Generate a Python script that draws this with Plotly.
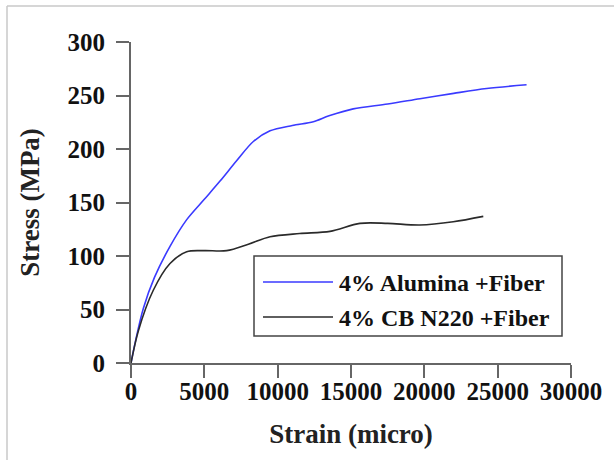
import plotly.graph_objects as go

# Data
alumina_strain = [0, 300, 840, 1600, 2660, 3800, 5000, 6070, 7200, 8340, 9480, 11000, 12430, 13500, 15150, 17500, 19700, 22000, 24250, 26970]
alumina_stress = [0, 20, 51, 80, 109, 134, 153, 170, 189, 207, 217, 222, 225.5, 231, 237.5, 242, 247, 252, 256.5, 260]
cb_strain = [0, 500, 1520, 2660, 3800, 5000, 6520, 8000, 9480, 11500, 13570, 15610, 17500, 19700, 21970, 24020]
cb_stress = [0, 30, 68, 93, 104, 105, 105, 111, 118, 121, 123, 130.5, 130.5, 129, 132, 137]
series_names = ["4% Alumina +Fiber", "4% CB N220 +Fiber"]
x_ticks = [0, 5000, 10000, 15000, 20000, 25000, 30000]
y_ticks = [0, 50, 100, 150, 200, 250, 300]

FONT = "Liberation Serif"
BLUE = "#3a3aff"
BLACK = "#2a2a2a"
AXIS = "#666666"

W, H = 614, 460
L, R, T, B = 131, 571, 42, 363

def px(x):
    return (x - L) / (R - L)

def py(y):
    return (B - y) / (B - T)

fig = go.Figure()
fig.add_trace(go.Scatter(x=alumina_strain, y=alumina_stress, mode="lines",
                         line=dict(color=BLUE, width=1.6, shape="spline", smoothing=0.9),
                         name=series_names[0], showlegend=False))
fig.add_trace(go.Scatter(x=cb_strain, y=cb_stress, mode="lines",
                         line=dict(color=BLACK, width=1.6, shape="spline", smoothing=0.9),
                         name=series_names[1], showlegend=False))

axis_common = dict(showgrid=False, zeroline=False, showline=True, linecolor=AXIS, linewidth=2,
                   ticks="outside", ticklen=13, tickwidth=2, tickcolor=AXIS,
                   tickfont=dict(family=FONT, size=25, color="#111"))

fig.update_xaxes(range=[0, 30000], tickvals=x_ticks, ticktext=["<b>%d</b>" % v for v in x_ticks],
                 title=dict(text="<b>Strain (micro)</b>", font=dict(family=FONT, size=27, color="#222"), standoff=20),
                 ticklabelstandoff=-8,
                 **axis_common)
fig.update_yaxes(range=[0, 300], tickvals=y_ticks, ticktext=["<b>%d</b>" % v for v in y_ticks],
                 title=dict(text="<b>Stress (MPa)</b>", font=dict(family=FONT, size=27, color="#222"), standoff=20),
                 ticklabelstandoff=6,
                 **axis_common)

shapes = []
# image border (top & left)
shapes.append(dict(type="line", xref="paper", yref="paper", x0=px(7), x1=px(620), y0=py(6), y1=py(6),
                   line=dict(color="#c8c8c8", width=1.5)))
shapes.append(dict(type="line", xref="paper", yref="paper", x0=px(7), x1=px(7), y0=py(6), y1=py(470),
                   line=dict(color="#c8c8c8", width=1.5)))
# legend box
shapes.append(dict(type="rect", xref="paper", yref="paper", x0=px(254), x1=px(562), y0=py(336), y1=py(256),
                   line=dict(color="#444", width=1.5), fillcolor="white"))
shapes.append(dict(type="line", xref="paper", yref="paper", x0=px(263), x1=px(333), y0=py(282), y1=py(282),
                   line=dict(color=BLUE, width=1.6)))
shapes.append(dict(type="line", xref="paper", yref="paper", x0=px(263), x1=px(333), y0=py(317), y1=py(317),
                   line=dict(color=BLACK, width=1.6)))
fig.update_layout(shapes=shapes)

for name, yc in zip(series_names, [283, 318]):
    fig.add_annotation(xref="paper", yref="paper", x=px(337), y=py(yc), xanchor="left", yanchor="middle",
                       text="<b>" + name + "</b>", showarrow=False,
                       font=dict(family=FONT, size=24, color="#111"))

fig.update_layout(width=W, height=H, margin=dict(l=L, r=W - R, t=T, b=H - B),
                  plot_bgcolor="white", paper_bgcolor="white", showlegend=False)

fig.write_html("out.html")
